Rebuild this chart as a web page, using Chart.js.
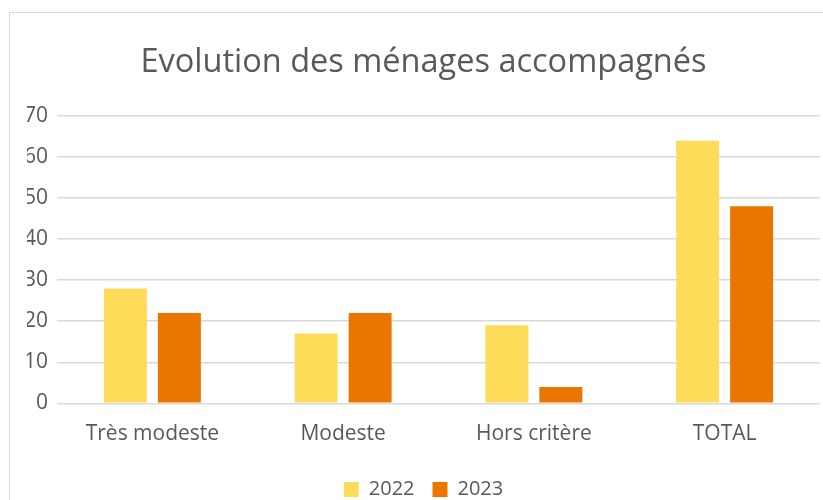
<!DOCTYPE html>
<html>
<head>
<meta charset="utf-8">
<script src="https://cdn.jsdelivr.net/npm/chart.js@4/dist/chart.umd.min.js"></script>
<style>
  html, body { margin: 0; padding: 0; background: #fff; overflow: hidden; width: 823px; height: 500px; }
  #box { position: absolute; left: 9px; top: 12px; width: 829px; height: 510px; border: 1.5px solid #d9d9d9; box-sizing: border-box; background: #fff; }
  #wrap { position: absolute; left: 0; top: 0; width: 826px; height: 507px; }
</style>
</head>
<body>
<div id="box"><div id="wrap"><canvas id="c"></canvas></div></div>
<script>
const title = "Evolution des ménages accompagnés";
const categories = ["Très modeste", "Modeste", "Hors critère", "TOTAL"];
const series2022 = [28, 17, 19, 64];
const series2023 = [22, 22, 4, 48];
const yTicks = [0, 10, 20, 30, 40, 50, 60, 70];

const FONT = "'Open Sans', sans-serif";
const TXT = '#595959';

new Chart(document.getElementById('c'), {
  type: 'bar',
  data: {
    labels: categories,
    datasets: [
      { label: '2022', data: series2022, backgroundColor: '#FFDB5A', barPercentage: 0.796, categoryPercentage: 0.566 },
      { label: '2023', data: series2023, backgroundColor: '#EA7600', barPercentage: 0.796, categoryPercentage: 0.566 }
    ]
  },
  options: {
    responsive: true,
    maintainAspectRatio: false,
    animation: false,
    layout: { padding: { left: 17, right: 16, top: 20, bottom: 10.5 } },
    plugins: {
      title: {
        display: true, text: title, color: TXT,
        font: { family: FONT, size: 32.5, weight: 'normal' },
        padding: { top: 10, bottom: 34 }
      },
      legend: {
        position: 'bottom',
        labels: {
          color: TXT, font: { family: FONT, size: 20 },
          boxWidth: 15, boxHeight: 15, padding: 18
        }
      },
      tooltip: { enabled: false }
    },
    scales: {
      x: {
        grid: { display: false, drawTicks: false },
        border: { display: false },
        ticks: { color: TXT, font: { family: FONT, size: 21 }, padding: 18.5 },
        afterFit: (scale) => { scale.height -= 4; }
      },
      y: {
        min: 0, max: 70,
        afterBuildTicks: (axis) => { axis.ticks = yTicks.map(v => ({ value: v })); },
        afterFit: (scale) => { scale.width -= 12; },
        grid: { color: '#d9d9d9', lineWidth: 1.5, drawTicks: false },
        border: { display: false },
        ticks: { color: TXT, font: { family: FONT, size: 21 }, padding: 9 }
      }
    }
  }
});
</script>
</body>
</html>
